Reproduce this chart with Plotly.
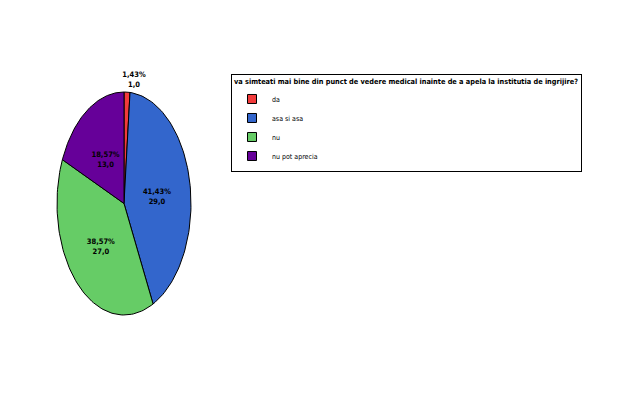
import numpy as np
import plotly.graph_objects as go

categories = ["da", "asa si asa", "nu", "nu pot aprecia"]
counts = [1, 29, 27, 13]
percent_labels = ["1,43%", "41,43%", "38,57%", "18,57%"]
count_labels = ["1,0", "29,0", "27,0", "13,0"]
colors = ["#F23B3B", "#3366CC", "#66CC66", "#660099"]
title = "va simteati mai bine din punct de vedere medical inainte de a apela la institutia de ingrijire?"

W, H = 623, 408
FONT = "DejaVu Sans Condensed, Liberation Sans, sans-serif"

vals = np.array(counts, dtype=float)
frac = vals / vals.sum()
ends = np.cumsum(frac)
starts = ends - frac

fig = go.Figure()
# wedges (clockwise from 12 o'clock), elliptical via axis scaling
for i, cat in enumerate(categories):
    t = np.linspace(starts[i], ends[i], 80) * 2 * np.pi
    xs = np.concatenate([[0], np.sin(t), [0]])
    ys = np.concatenate([[0], np.cos(t), [0]])
    fig.add_trace(go.Scatter(x=xs, y=ys, mode="lines", fill="toself",
                             fillcolor=colors[i], line=dict(color="black", width=1),
                             showlegend=False, hoverinfo="skip"))

# labels
lx, ly = [], []
for i in range(len(categories)):
    mid = (starts[i] + ends[i]) / 2 * 2 * np.pi
    small = frac[i] <= 0.05
    r = 1.11 if small else 0.5
    lx.append(r * np.sin(mid) + (0.1 if small else 0))
    ly.append(r * np.cos(mid) - (0 if small else 0.03))
texts = [f"<b>{p}</b><br><b>{c}</b>" for p, c in zip(percent_labels, count_labels)]
fig.add_trace(go.Scatter(x=lx, y=ly, mode="text", text=texts, textposition="middle center",
                         textfont=dict(family=FONT, size=7.5, color="black"),
                         cliponaxis=False, showlegend=False, hoverinfo="skip"))

# legend entries
for i, cat in enumerate(categories):
    fig.add_trace(go.Scatter(x=[None], y=[None], mode="markers", name=cat,
                             marker=dict(symbol="square", size=9, color=colors[i],
                                         line=dict(color="black", width=1))))

cx, cy, rx, ry = 124, 203.5, 67, 111.5
R = 1.25
fig.update_layout(
    width=W, height=H,
    margin=dict(l=0, r=0, t=0, b=0),
    paper_bgcolor="white", plot_bgcolor="white",
    xaxis=dict(domain=[(cx - R * rx) / W, (cx + R * rx) / W], range=[-R, R], visible=False),
    yaxis=dict(domain=[1 - (cy + R * ry) / H, 1 - (cy - R * ry) / H], range=[-R, R], visible=False),
    legend=dict(x=231 / W, y=1 - 74 / H, xanchor="left", yanchor="top",
                bordercolor="black", borderwidth=1, bgcolor="white",
                font=dict(family=FONT, size=7, color="black"),
                title=dict(text=f"<b>{title}</b>", side="top",
                           font=dict(family=FONT, size=7.3, color="black")),
                itemwidth=30, tracegroupgap=0),
    showlegend=True,
)

fig.write_html("out.html", config={"displayModeBar": False},
               post_script="document.body.style.margin='0';")
